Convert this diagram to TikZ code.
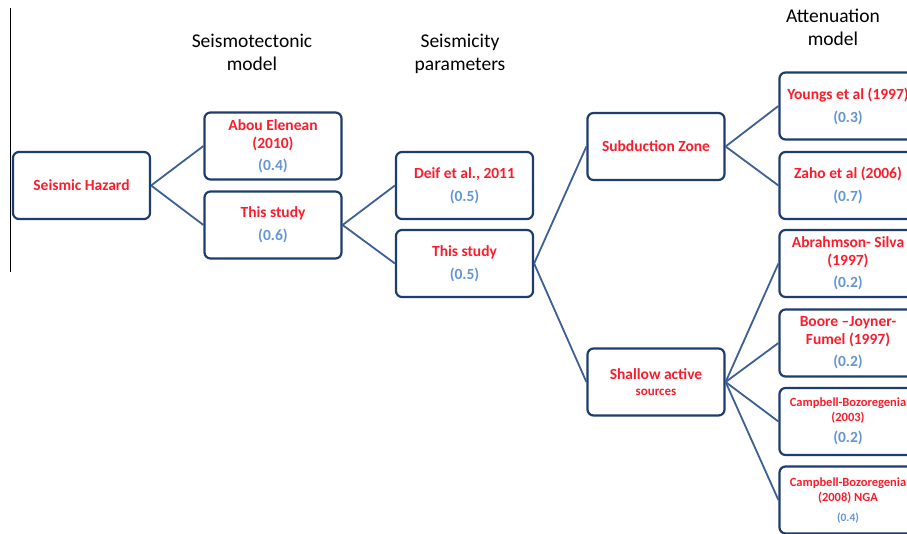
\documentclass[tikz,border=0pt]{standalone}
\usepackage{fontspec}
\setmainfont{Carlito}
\definecolor{hred}{RGB}{250,30,45}
\definecolor{wblue}{RGB}{100,150,215}
\definecolor{boxline}{RGB}{30,60,110}
\definecolor{linkblue}{RGB}{60,95,150}
\newcommand\wt[1]{\textcolor{wblue}{(#1)}}
\begin{document}
\begin{tikzpicture}[x=1pt,y=-1pt,
  box/.style={draw=boxline,line width=2.2pt,rounded corners=6pt,fill=white,
    minimum width=137pt,minimum height=67pt,align=center,text=hred,
    font=\fontsize{15.5}{18}\selectfont\bfseries,inner sep=1pt},
  small/.style={font=\fontsize{12.5}{15}\selectfont\bfseries},
  head/.style={align=center,font=\fontsize{19.5}{23}\selectfont},
  link/.style={draw=linkblue,line width=1.8pt}]
\useasboundingbox (0,0) rectangle (907,534);
\clip (0,0) rectangle (907,534);
\draw[line width=0.8pt] (10.5,8) -- (10.5,272);
% column titles
\node[head] (hmodel) at (252,52) {Seismotectonic\\model};
\node[head] (hpar) at (460,54) {Seismicity\\parameters};
\node[head] (hatt) at (833,27) {Attenuation\\model};
% logic tree
\node[box] (hazard) at (81.5,185.5) {Seismic Hazard};
\node[box] (abou) at (273,146) {Abou Elenean\\(2010)\\[4pt]\wt{0.4}};
\node[box] (study1) at (273,225) {This study\\[5pt]\wt{0.6}};
\node[box] (deif) at (464.5,185.5) {Deif et al., 2011\\[5pt]\wt{0.5}};
\node[box] (study2) at (464.5,263.5) {This study\\[5pt]\wt{0.5}};
\node[box] (subd) at (656,146.5) {Subduction Zone};
\node[box] (shallow) at (656,382) {Shallow active\\[-2pt]{\fontsize{13}{14}\selectfont sources}};
\node[box] (youngs) at (848,106) {Youngs et al (1997)\\[5pt]\wt{0.3}};
\node[box] (zaho) at (848,185.5) {Zaho et al (2006)\\[5pt]\wt{0.7}};
\node[box] (abra) at (848,263.5) {Abrahmson- Silva\\(1997)\\[4pt]\wt{0.2}};
\node[box] (boore) at (848,343) {Boore –Joyner-\\Fumel (1997)\\[4pt]\wt{0.2}};
\node[box,small] (camp3) at (848,421.5) {Campbell-Bozoregenia\\(2003)\\[6pt]{\fontsize{15.5}{15}\selectfont\wt{0.2}}};
\node[box,small] (camp8) at (848,500) {Campbell-Bozoregenia\\(2008) NGA\\[5pt]{\fontsize{11.5}{12}\selectfont\wt{0.4}}};
\foreach \a/\b in {hazard/abou,hazard/study1,study1/deif,study1/study2,
    study2/subd,study2/shallow,subd/youngs,subd/zaho,
    shallow/abra,shallow/boore,shallow/camp3,shallow/camp8}
  \draw[link] (\a.east) -- (\b.west);
\end{tikzpicture}
\end{document}
